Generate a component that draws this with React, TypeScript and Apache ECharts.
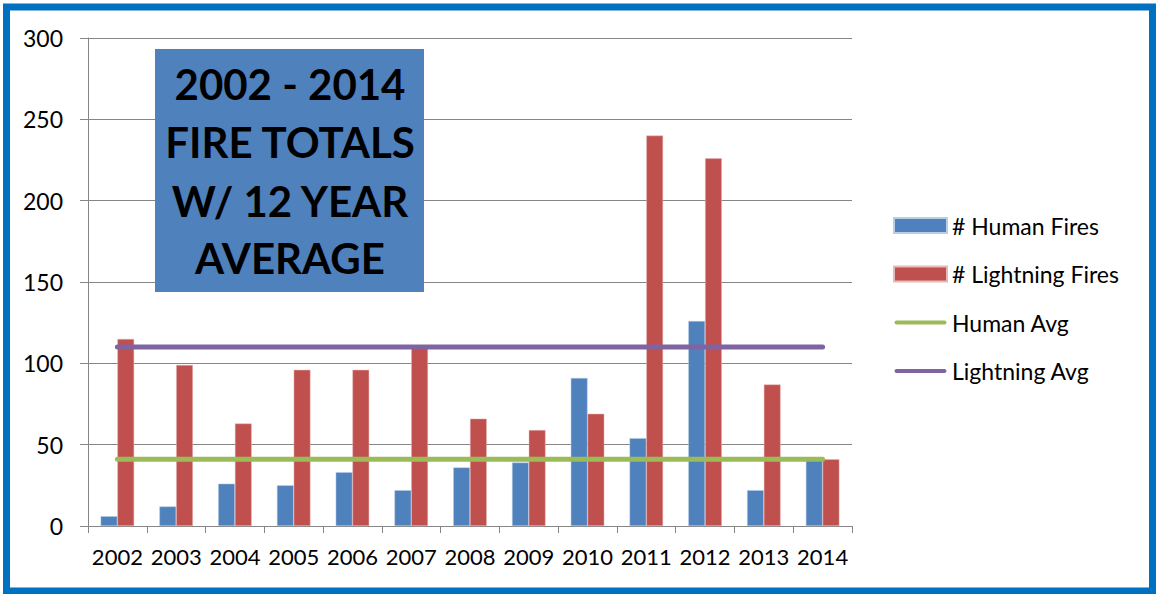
import React, { useEffect, useRef } from "react";
import * as echarts from "echarts";

const years = ["2002", "2003", "2004", "2005", "2006", "2007", "2008", "2009", "2010", "2011", "2012", "2013", "2014"];
const humanFires = [6, 12, 26, 25, 33, 22, 36, 39, 91, 54, 126, 22, 41];
const lightningFires = [115, 99, 63, 96, 96, 110, 66, 59, 69, 240, 226, 87, 41];
const humanAvg = 41;
const lightningAvg = 110;
const titleLines = ["2002 - 2014", "FIRE TOTALS", "W/ 12 YEAR", "AVERAGE"];
const seriesNames = ["# Human Fires", "# Lightning Fires", "Human Avg", "Lightning Avg"];
const yMin = 0;
const yMax = 300;
const yInterval = 50;

const FONT = "Lato, 'Open Sans', sans-serif";
const LINE_ICON = "path://M0,0M53,15M2.5,5.5H50.5A2,2 0 0 1 50.5,9.5H2.5A2,2 0 0 1 2.5,5.5Z";

export default function App() {
  const ref = useRef<HTMLDivElement>(null);
  useEffect(() => {
    if (!ref.current) return;
    const chart = echarts.init(ref.current, undefined, { renderer: "svg" });
    const titleY = [84, 142, 201, 258];
    chart.setOption({
      animation: false,
      backgroundColor: "#ffffff",
      textStyle: { fontFamily: FONT },
      grid: { left: 88, right: 304, top: 38, bottom: 68 },
      legend: {
        orient: "vertical",
        left: 888,
        top: 209,
        padding: 5,
        itemWidth: 53,
        itemHeight: 15,
        itemGap: 25.5,
        textStyle: { fontSize: 23, color: "#000", fontFamily: FONT },
        data: [
          { name: seriesNames[0], icon: "rect" },
          { name: seriesNames[1], icon: "rect" },
          { name: seriesNames[2], icon: LINE_ICON },
          { name: seriesNames[3], icon: LINE_ICON },
        ],
      },
      xAxis: {
        type: "category",
        data: years,
        axisLine: { lineStyle: { color: "#868686", width: 1 } },
        axisTick: { show: true, length: 7, lineStyle: { color: "#868686" } },
        axisLabel: { color: "#000", fontSize: 22, margin: 19, interval: 0, fontFamily: FONT },
      },
      yAxis: {
        type: "value",
        min: yMin,
        max: yMax,
        interval: yInterval,
        axisLine: { show: true, lineStyle: { color: "#868686", width: 1 } },
        axisTick: { show: true, length: 8, lineStyle: { color: "#868686" } },
        splitLine: { lineStyle: { color: "#868686", width: 1 } },
        axisLabel: { color: "#000", fontSize: 23, margin: 25, fontFamily: FONT },
      },
      series: [
        {
          name: seriesNames[0],
          type: "bar",
          data: humanFires,
          barGap: "0%",
          barCategoryGap: "43%",
          itemStyle: { color: "#4F81BD", borderColor: "#B9CDE5", borderWidth: 0.5 },
        },
        {
          name: seriesNames[1],
          type: "bar",
          data: lightningFires,
          barGap: "0%",
          barCategoryGap: "43%",
          itemStyle: { color: "#C0504D", borderColor: "#E6B9B8", borderWidth: 0.5 },
        },
        {
          name: seriesNames[2],
          type: "line",
          data: years.map(() => humanAvg),
          symbol: "none",
          z: 5,
          lineStyle: { color: "#9BBB59", width: 5, cap: "round" },
          itemStyle: { color: "#9BBB59" },
        },
        {
          name: seriesNames[3],
          type: "line",
          data: years.map(() => lightningAvg),
          symbol: "none",
          z: 5,
          lineStyle: { color: "#8064A2", width: 5, cap: "round" },
          itemStyle: { color: "#8064A2" },
        },
      ],
      graphic: [
        {
          type: "rect",
          z: 100,
          shape: { x: 155, y: 49, width: 269, height: 243 },
          style: { fill: "#4F81BD" },
        },
        ...titleLines.map((t, i) => ({
          type: "text",
          z: 101,
          x: 290,
          y: titleY[i],
          style: {
            text: t,
            fill: "#000",
            font: `bold 42px ${FONT}`,
            textAlign: "center",
            textVerticalAlign: "middle",
          },
        })),
        {
          type: "rect",
          z: 102,
          shape: { x: 6.5, y: 7, width: 1146, height: 584 },
          style: { fill: "none", stroke: "#0070C0", lineWidth: 7 },
        },
      ],
    });
    return () => chart.dispose();
  }, []);
  return (
    <div
      ref={ref}
      style={{ position: "fixed", left: 0, top: 0, width: 1156, height: 594, background: "#fff" }}
    />
  );
}
